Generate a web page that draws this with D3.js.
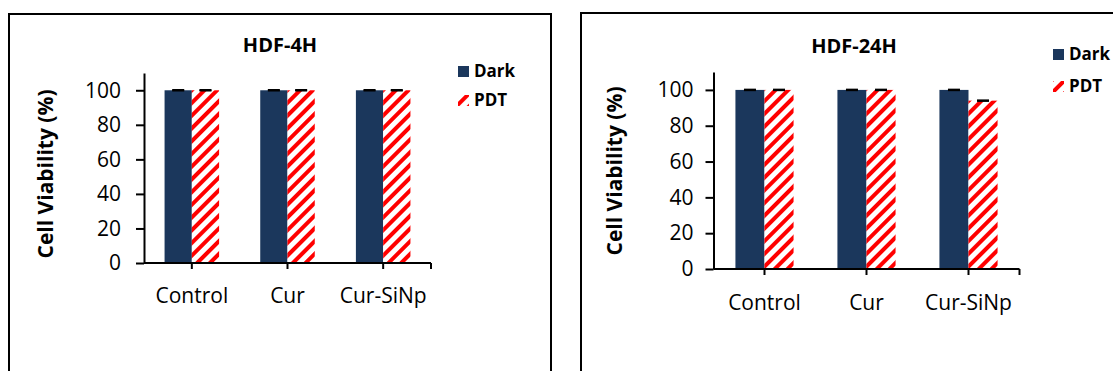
<!DOCTYPE html>
<html>
<head>
<meta charset="utf-8">
<script src="https://cdn.jsdelivr.net/npm/d3@7"></script>
<style>
  html, body { margin: 0; padding: 0; background: #fff; }
  svg { display: block; }
  text { font-family: "Open Sans", "DejaVu Sans", sans-serif; fill: #000; }
</style>
</head>
<body>
<svg id="chart" width="1113" height="371"></svg>
<script>
// Cell viability of HDF cells, dark vs. photodynamic treatment
const categories = ["Control", "Cur", "Cur-SiNp"];
const seriesNames = ["Dark", "PDT"];
const yTickValues = [0, 20, 40, 60, 80, 100];

const dark4h = [100, 100, 100];
const pdt4h = [100, 100, 100];
const dark4hSd = [0.2, 0.2, 0.2];
const pdt4hSd = [0.2, 0.2, 0.2];

const dark24h = [100, 100, 100];
const pdt24h = [100, 100, 94];
const dark24hSd = [0.2, 0.2, 0.2];
const pdt24hSd = [0.2, 0.2, 0.2];

const DARK_COLOR = "#1b375c";
const HATCH_COLOR = "#ff0000";

const svg = d3.select("#chart");

// Diagonal red hatch used by the PDT bars and legend key
const defs = svg.append("defs");
const pat = defs.append("pattern")
  .attr("id", "hatch")
  .attr("patternUnits", "userSpaceOnUse")
  .attr("width", 9).attr("height", 9)
  .attr("patternTransform", "rotate(45)");
pat.append("rect").attr("width", 9).attr("height", 9).attr("fill", "#fff");
pat.append("rect").attr("x", 0).attr("y", 0).attr("width", 4).attr("height", 9).attr("fill", HATCH_COLOR);

function drawPanel(cfg) {
  const g = svg.append("g");

  // outer frame (open at the bottom edge of the page)
  g.append("rect")
    .attr("x", cfg.frame.x).attr("y", cfg.frame.y)
    .attr("width", cfg.frame.w).attr("height", cfg.frame.h)
    .attr("fill", "none").attr("stroke", "#000").attr("stroke-width", 2);

  const x = d3.scaleBand().domain(categories).range([cfg.x0, cfg.x1]).padding(0);
  const groupW = x.bandwidth() * 0.57;
  const xs = d3.scaleBand().domain(seriesNames).range([0, groupW]).padding(0);
  const y = d3.scaleLinear().domain([0, 110]).range([cfg.y0, cfg.y1]);

  const rows = categories.map((c, i) => ({
    cat: c,
    vals: [
      { s: "Dark", v: cfg.dark[i], sd: cfg.darkSd[i] },
      { s: "PDT", v: cfg.pdt[i], sd: cfg.pdtSd[i] }
    ]
  }));

  const groups = g.selectAll("g.cat").data(rows).join("g")
    .attr("class", "cat")
    .attr("transform", d => `translate(${x(d.cat) + (x.bandwidth() - groupW) / 2},0)`);

  groups.selectAll("rect").data(d => d.vals).join("rect")
    .attr("x", d => xs(d.s))
    .attr("y", d => y(d.v))
    .attr("width", xs.bandwidth())
    .attr("height", d => y(0) - y(d.v))
    .attr("fill", d => d.s === "Dark" ? DARK_COLOR : "url(#hatch)");

  // error bars
  const eb = groups.selectAll("g.err").data(d => d.vals).join("g").attr("class", "err")
    .attr("transform", d => `translate(${xs(d.s) + xs.bandwidth() / 2},0)`);
  eb.append("line")
    .attr("x1", 0).attr("x2", 0)
    .attr("y1", d => y(d.v + d.sd)).attr("y2", d => y(d.v - d.sd))
    .attr("stroke", "#000").attr("stroke-width", 1.5);
  eb.selectAll("line.cap").data(d => [d.v + d.sd, d.v - d.sd]).join("line")
    .attr("class", "cap")
    .attr("x1", -6).attr("x2", 6)
    .attr("y1", v => y(v)).attr("y2", v => y(v))
    .attr("stroke", "#000").attr("stroke-width", 1.8);

  // y axis
  const yAxis = g.append("g")
    .attr("transform", `translate(${cfg.x0},0)`)
    .call(d3.axisLeft(y).tickValues(yTickValues).tickSize(8).tickPadding(cfg.yPad).tickSizeOuter(0));
  yAxis.select(".domain").attr("stroke-width", 2);
  yAxis.selectAll(".tick line").attr("stroke-width", 2);
  yAxis.selectAll(".tick text")
    .attr("font-size", 21).attr("font-family", "'Open Sans', sans-serif").attr("fill", "#000");

  // x axis: ticks at category centres plus the closing tick
  const xAxis = g.append("g").attr("transform", `translate(0,${cfg.y0})`);
  xAxis.append("line")
    .attr("x1", cfg.x0).attr("x2", cfg.x1)
    .attr("stroke", "#000").attr("stroke-width", 2);
  const tickXs = categories.map(c => x(c) + x.bandwidth() / 2).concat([cfg.x1]);
  xAxis.selectAll("line.xt").data(tickXs).join("line")
    .attr("class", "xt")
    .attr("x1", d => d).attr("x2", d => d)
    .attr("y1", 0).attr("y2", 6)
    .attr("stroke", "#000").attr("stroke-width", 2);
  xAxis.selectAll("text.xl").data(categories).join("text")
    .attr("class", "xl")
    .attr("x", d => x(d) + x.bandwidth() / 2)
    .attr("y", cfg.xLabelDy)
    .attr("text-anchor", "middle")
    .attr("font-size", 21)
    .text(d => d);

  // title
  g.append("text")
    .attr("x", cfg.titleX).attr("y", cfg.titleY)
    .attr("text-anchor", "middle")
    .attr("font-size", 20).attr("font-weight", "bold")
    .text(cfg.title);

  // y axis title
  g.append("text")
    .attr("transform", `translate(${cfg.yLabelX},${cfg.yLabelY}) rotate(-90)`)
    .attr("text-anchor", "middle")
    .attr("font-size", 21).attr("font-weight", "bold")
    .text("Cell Viability (%)");

  // legend
  const lg = g.append("g").attr("transform", `translate(${cfg.legX},0)`);
  seriesNames.forEach((s, i) => {
    const base = cfg.legY[i];
    lg.append("rect")
      .attr("x", 0).attr("y", base - 11)
      .attr("width", 11).attr("height", 11)
      .attr("fill", s === "Dark" ? DARK_COLOR : "url(#hatch)");
    lg.append("text")
      .attr("x", 16).attr("y", base)
      .attr("font-size", 17).attr("font-weight", "bold")
      .text(s);
  });
}

drawPanel({
  title: "HDF-4H",
  dark: dark4h, pdt: pdt4h, darkSd: dark4hSd, pdtSd: pdt4hSd,
  frame: { x: 9, y: 14, w: 542, h: 400 },
  x0: 144, x1: 431, y0: 263, y1: 73,
  yPad: 15, xLabelDy: 40,
  titleX: 280, titleY: 52,
  yLabelX: 53, yLabelY: 174,
  legX: 458, legY: [77, 106]
});

drawPanel({
  title: "HDF-24H",
  dark: dark24h, pdt: pdt24h, darkSd: dark24hSd, pdtSd: pdt24hSd,
  frame: { x: 581, y: 13, w: 560, h: 400 },
  x0: 713.5, x1: 1019.5, y0: 269, y1: 72,
  yPad: 12, xLabelDy: 41,
  titleX: 854, titleY: 53,
  yLabelX: 622, yLabelY: 171,
  legX: 1053, legY: [60, 92]
});
</script>
</body>
</html>
